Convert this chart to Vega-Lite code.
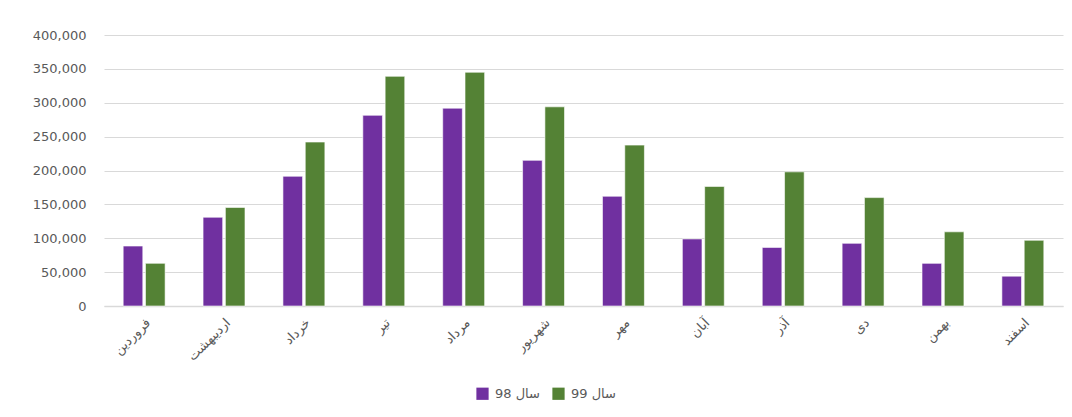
{
  "$schema": "https://vega.github.io/schema/vega-lite/v6.json",
  "width": 959,
  "height": 271,
  "autosize": {"type": "none"},
  "padding": {"left": 104, "top": 35, "right": 9, "bottom": 111},
  "background": "white",
  "data": {
    "values": [
      {"month": "فروردین", "series": "سال 98", "value": 88500},
      {"month": "فروردین", "series": "سال 99", "value": 63000},
      {"month": "اردیبهشت", "series": "سال 98", "value": 131000},
      {"month": "اردیبهشت", "series": "سال 99", "value": 145500},
      {"month": "خرداد", "series": "سال 98", "value": 191500},
      {"month": "خرداد", "series": "سال 99", "value": 242000},
      {"month": "تیر", "series": "سال 98", "value": 281500},
      {"month": "تیر", "series": "سال 99", "value": 339000},
      {"month": "مرداد", "series": "سال 98", "value": 292000},
      {"month": "مرداد", "series": "سال 99", "value": 345000},
      {"month": "شهریور", "series": "سال 98", "value": 215000},
      {"month": "شهریور", "series": "سال 99", "value": 294000},
      {"month": "مهر", "series": "سال 98", "value": 162000},
      {"month": "مهر", "series": "سال 99", "value": 237500},
      {"month": "آبان", "series": "سال 98", "value": 99000},
      {"month": "آبان", "series": "سال 99", "value": 176500},
      {"month": "آذر", "series": "سال 98", "value": 86500},
      {"month": "آذر", "series": "سال 99", "value": 198000},
      {"month": "دی", "series": "سال 98", "value": 92500},
      {"month": "دی", "series": "سال 99", "value": 160000},
      {"month": "بهمن", "series": "سال 98", "value": 63000},
      {"month": "بهمن", "series": "سال 99", "value": 109500},
      {"month": "اسفند", "series": "سال 98", "value": 44000},
      {"month": "اسفند", "series": "سال 99", "value": 97000}
    ]
  },
  "mark": {"type": "bar", "stroke": "#ffffff", "strokeOpacity": 0.6, "strokeWidth": 1},
  "encoding": {
    "x": {
      "field": "month",
      "type": "nominal",
      "sort": null,
      "scale": {"paddingInner": 0.475, "paddingOuter": 0.24},
      "axis": {
        "title": null,
        "labelAngle": -45,
        "labelFont": "DejaVu Sans",
        "labelFontSize": 13,
        "labelColor": "#595959",
        "labelPadding": 10,
        "ticks": false,
        "domainColor": "#d9d9d9",
        "domainWidth": 1.5
      }
    },
    "xOffset": {
      "field": "series",
      "type": "nominal",
      "scale": {"domain": ["سال 98", "سال 99"], "paddingInner": 0.12}
    },
    "y": {
      "field": "value",
      "type": "quantitative",
      "scale": {"domain": [0, 400000], "nice": false},
      "axis": {
        "title": null,
        "format": ",.0f",
        "values": [0, 50000, 100000, 150000, 200000, 250000, 300000, 350000, 400000],
        "domain": false,
        "ticks": false,
        "labelPadding": 18,
        "labelFont": "DejaVu Sans",
        "labelFontSize": 13,
        "labelColor": "#595959",
        "gridColor": "#d9d9d9",
        "gridWidth": 1.2
      }
    },
    "color": {
      "field": "series",
      "type": "nominal",
      "scale": {"domain": ["سال 98", "سال 99"], "range": ["#7030a0", "#548235"]},
      "legend": {
        "title": null,
        "orient": "none",
        "direction": "horizontal",
        "legendX": 372,
        "legendY": 352,
        "symbolType": "square",
        "symbolSize": 150,
        "symbolStrokeWidth": 0,
        "labelFont": "DejaVu Sans",
        "labelFontSize": 13,
        "labelColor": "#595959",
        "columnPadding": 12,
        "labelOffset": 6
      }
    }
  },
  "config": {"view": {"stroke": null}}
}
